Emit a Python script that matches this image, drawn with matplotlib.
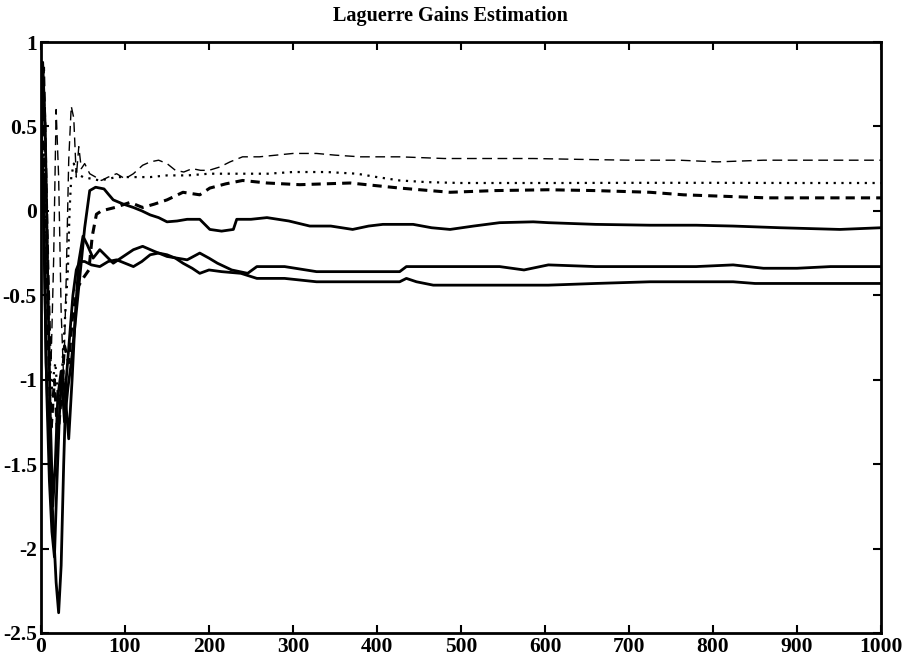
import matplotlib
matplotlib.use("Agg")
import matplotlib.pyplot as plt

# ---- data ----
x_longdash = [0, 2, 4, 6, 9, 12, 15, 18, 21, 24, 27, 30, 33, 36, 39, 42, 45, 48, 52, 58, 65, 72, 80, 90,
              100, 110, 121, 130, 140, 150, 160, 170, 180, 190, 200, 213, 225, 240, 260, 280, 300, 328,
              350, 380, 427, 480, 530, 586, 640, 700, 760, 805, 860, 920, 983, 1000]
y_longdash = [0, 0.55, 0.85, 0.4, -0.3, -0.9, -0.3, 0.6, 0.2, -0.6, -1.0, -0.4, 0.3, 0.62, 0.55, 0.2, 0.38, 0.25,
              0.28, 0.22, 0.2, 0.18, 0.2, 0.22, 0.19, 0.22, 0.27, 0.29, 0.3, 0.28, 0.24, 0.23, 0.25, 0.24, 0.24,
              0.26, 0.29, 0.32, 0.32, 0.33, 0.34, 0.34, 0.33, 0.32, 0.32, 0.31, 0.31, 0.31, 0.305, 0.30, 0.30,
              0.29, 0.30, 0.30, 0.30, 0.30]

x_dotted = [0, 3, 6, 9, 13, 17, 21, 25, 29, 32, 34, 36, 39, 43, 50, 60, 70, 90, 110, 130, 150, 175, 200,
            240, 270, 300, 340, 376, 400, 427, 460, 500, 560, 620, 700, 800, 900, 1000]
y_dotted = [0, 0.4, -0.3, -0.8, -1.05, -0.9, -1.15, -0.95, -0.6, -0.35, 0.0, 0.2, 0.28, 0.22, 0.2, 0.19,
            0.18, 0.2, 0.2, 0.2, 0.21, 0.21, 0.22, 0.22, 0.22, 0.23, 0.23, 0.22, 0.2, 0.18, 0.17, 0.165,
            0.165, 0.165, 0.166, 0.166, 0.165, 0.165]

x_dashed = [0, 3, 6, 9, 12, 16, 20, 24, 28, 33, 38, 44, 50, 57, 61, 66, 72, 88, 106, 121, 135, 150, 169,
            189, 201, 220, 240, 269, 308, 368, 427, 487, 540, 604, 660, 725, 765, 820, 864, 1000]
y_dashed = [0, 0.7, 0.1, -0.8, -1.3, -1.0, -1.35, -1.1, -0.8, -0.9, -0.6, -0.45, -0.4, -0.35, -0.15, -0.02,
            0.0, 0.02, 0.05, 0.02, 0.04, 0.065, 0.11, 0.095, 0.135, 0.16, 0.18, 0.165, 0.155, 0.165, 0.135,
            0.11, 0.12, 0.125, 0.12, 0.11, 0.095, 0.085, 0.077, 0.077]

x_solid1 = [0, 2, 5, 8, 11, 14, 17, 20, 24, 28, 32, 36, 40, 46, 52, 58, 65, 75, 80, 86, 98, 110, 120, 130,
            140, 150, 162, 174, 189, 201, 215, 229, 233, 250, 269, 295, 320, 345, 371, 390, 407, 443, 465,
            487, 515, 546, 586, 604, 660, 725, 780, 824, 880, 951, 1000]
y_solid1 = [0, 0.88, 0.5, -0.4, -1.2, -1.75, -1.5, -1.1, -0.95, -1.25, -1.05, -0.9, -0.7, -0.4, -0.1, 0.12,
            0.14, 0.13, 0.1, 0.065, 0.04, 0.02, 0.0, -0.024, -0.04, -0.065, -0.06, -0.05, -0.05, -0.11,
            -0.12, -0.11, -0.05, -0.05, -0.04, -0.06, -0.09, -0.09, -0.11, -0.09, -0.08, -0.08, -0.1,
            -0.11, -0.09, -0.07, -0.065, -0.07, -0.08, -0.085, -0.085, -0.09, -0.1, -0.11, -0.1]

x_solid2 = [0, 2, 4, 7, 10, 13, 16, 19, 22, 25, 29, 33, 37, 41, 45, 50, 55, 62, 70, 78, 86, 98, 110, 121,
            135, 150, 162, 174, 189, 200, 210, 227, 246, 257, 290, 328, 380, 427, 435, 467, 510, 546, 575,
            604, 660, 725, 780, 824, 860, 900, 940, 1000]
y_solid2 = [0, 0.3, -0.3, -1.1, -1.6, -1.9, -2.05, -1.6, -1.2, -0.95, -1.1, -1.35, -1.0, -0.6, -0.3, -0.15,
            -0.2, -0.28, -0.23, -0.27, -0.31, -0.27, -0.23, -0.21, -0.24, -0.27, -0.28, -0.29, -0.25, -0.28,
            -0.31, -0.35, -0.37, -0.33, -0.33, -0.36, -0.36, -0.36, -0.33, -0.33, -0.33, -0.33, -0.35,
            -0.32, -0.33, -0.33, -0.33, -0.32, -0.34, -0.34, -0.33, -0.33]

x_solid3 = [0, 3, 6, 10, 14, 18, 21, 24, 27, 30, 34, 38, 42, 46, 52, 60, 70, 80, 90, 100, 110, 120, 130,
            140, 150, 160, 169, 180, 189, 200, 215, 238, 257, 290, 328, 380, 427, 435, 447, 467, 520, 604,
            660, 725, 780, 824, 850, 900, 1000]
y_solid3 = [0, 0.2, -0.9, -1.4, -1.8, -2.2, -2.38, -2.1, -1.5, -1.0, -0.75, -0.5, -0.35, -0.3, -0.3, -0.32,
            -0.33, -0.3, -0.29, -0.31, -0.33, -0.3, -0.26, -0.25, -0.26, -0.28, -0.31, -0.34, -0.37, -0.35,
            -0.36, -0.37, -0.40, -0.40, -0.42, -0.42, -0.42, -0.40, -0.42, -0.44, -0.44, -0.44, -0.43,
            -0.42, -0.42, -0.42, -0.43, -0.43, -0.43]

x_ticks = [0, 100, 200, 300, 400, 500, 600, 700, 800, 900, 1000]
y_ticks = [-2.5, -2, -1.5, -1, -0.5, 0, 0.5, 1]
y_tick_labels = ["-2.5", "-2", "-1.5", "-1", "-0.5", "0", "0.5", "1"]
title = "Laguerre Gains Estimation"

# ---- figure ----
plt.rcParams['font.family'] = ['Liberation Serif', 'DejaVu Serif']
fig = plt.figure(figsize=(9.02, 6.65), dpi=100)
ax = fig.add_axes([41 / 902, 1 - 633 / 665, (881 - 41) / 902, (633 - 42) / 665])

k = 'black'
ax.plot(x_longdash, y_longdash, color=k, lw=1.0, linestyle=(0, (7, 4)))
ax.plot(x_dotted, y_dotted, color=k, lw=1.6, linestyle=(0, (1, 2.5)))
ax.plot(x_dashed, y_dashed, color=k, lw=2.2, linestyle=(0, (3, 2)))
ax.plot(x_solid1, y_solid1, color=k, lw=2.0)
ax.plot(x_solid2, y_solid2, color=k, lw=2.0)
ax.plot(x_solid3, y_solid3, color=k, lw=2.0)

ax.set_xlim(0, 1000)
ax.set_ylim(-2.5, 1)
ax.set_xticks(x_ticks)
ax.set_xticklabels([str(v) for v in x_ticks])
ax.set_yticks(y_ticks)
ax.set_yticklabels(y_tick_labels)
ax.tick_params(direction='in', top=True, right=True, length=6, width=1.5,
               labelsize=15.5, pad=3)
for lab in ax.get_xticklabels() + ax.get_yticklabels():
    lab.set_fontweight('bold')
for s in ax.spines.values():
    s.set_linewidth(2.0)
ax.set_title(title, fontsize=14.5, fontweight='bold', pad=15, x=0.487)

fig.savefig("out.png", dpi=100)
